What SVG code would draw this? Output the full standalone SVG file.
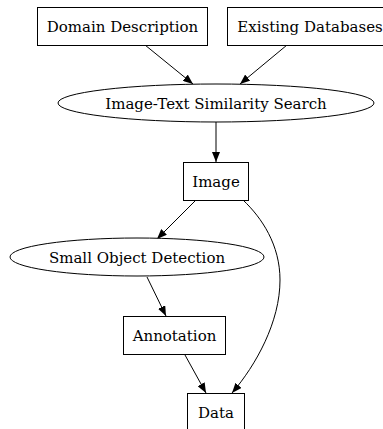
<svg xmlns="http://www.w3.org/2000/svg" width="383" height="429" viewBox="0 0 383 429">
<defs>
<style>
.n{fill:#fff;stroke:#000;stroke-width:1}
.t{font-family:"DejaVu Serif",serif;font-size:15px;text-anchor:middle;fill:#000}
.e{fill:none;stroke:#000;stroke-width:1}
</style>
<marker id="a" markerWidth="10" markerHeight="8" refX="10" refY="4" orient="auto" markerUnits="userSpaceOnUse">
<polygon points="0,0 10,4 0,8" fill="#000"/>
</marker>
</defs>
<rect width="383" height="429" fill="#fff"/>
<g id="edges">
<path class="e" d="M145,45 L193,84" marker-end="url(#a)"/>
<path class="e" d="M287,45 L240,84" marker-end="url(#a)"/>
<path class="e" d="M216,122 L216,162" marker-end="url(#a)"/>
<path class="e" d="M196,200 L157,239" marker-end="url(#a)"/>
<path class="e" d="M243,200 C262,218 280,245 280,280 C280,322 256,365 232,393" marker-end="url(#a)"/>
<path class="e" d="M147,277 L166,316" marker-end="url(#a)"/>
<path class="e" d="M185,355 L206,393" marker-end="url(#a)"/>
</g>
<g id="domain"><rect class="n" x="37.5" y="7.5" width="170" height="38"/><text class="t" x="122.5" y="31.5">Domain Description</text></g>
<g id="existing"><rect class="n" x="227.5" y="7.5" width="160" height="38"/><text class="t" x="310" y="31.5">Existing Databases</text></g>
<g id="search"><ellipse class="n" cx="216" cy="103" rx="158" ry="19"/><text class="t" x="216" y="108.5">Image-Text Similarity Search</text></g>
<g id="image"><rect class="n" x="183.5" y="162.5" width="65" height="38"/><text class="t" x="216" y="186.5">Image</text></g>
<g id="sod"><ellipse class="n" cx="137" cy="257" rx="127" ry="19"/><text class="t" x="137" y="262.5">Small Object Detection</text></g>
<g id="annotation"><rect class="n" x="123.5" y="316.5" width="102" height="38"/><text class="t" x="174.5" y="340.5">Annotation</text></g>
<g id="data"><rect class="n" x="187.5" y="393.5" width="57" height="38"/><text class="t" x="216" y="417.5">Data</text></g>
</svg>
